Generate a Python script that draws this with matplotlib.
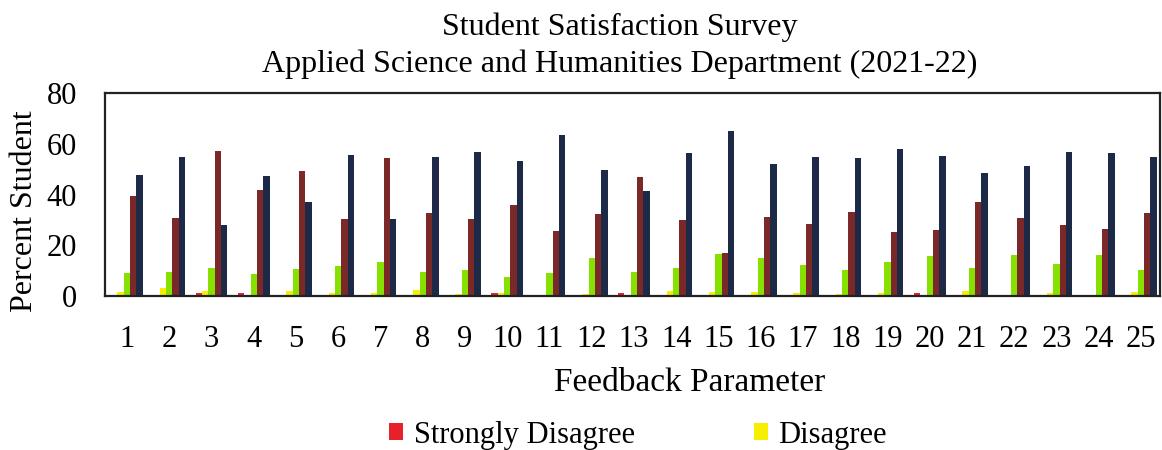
import matplotlib
matplotlib.use("Agg")
import matplotlib.pyplot as plt
import numpy as np

params = [str(i) for i in range(1, 26)]
strongly_disagree = [0.3, 0.3, 1.2, 1.2, 0.3, 0.3, 0.3, 0.3, 0.3, 1.2, 0.3, 0.3, 1.3, 0.3, 0.3,
                     0.3, 0.3, 0.3, 0.3, 1.1, 0.3, 0.3, 0.3, 0.3, 0.3]
disagree = [1.7, 3.3, 2.1, 0.3, 2.1, 1.3, 1.3, 2.2, 0.9, 1.2, 0.3, 0.9, 0.3, 2.0, 1.7,
            1.7, 1.3, 0.9, 1.2, 0.3, 1.8, 0.3, 1.3, 0.3, 1.4]
neutral = [8.9, 9.6, 10.9, 8.6, 10.5, 11.7, 13.4, 9.3, 10.4, 7.5, 9.1, 15.0, 9.6, 11.2, 16.4,
           14.9, 12.2, 10.1, 13.3, 15.9, 10.9, 16.2, 12.8, 16.2, 10.4]
agree = [39.6, 30.7, 57.2, 41.6, 49.2, 30.3, 54.3, 32.9, 30.5, 35.7, 25.7, 32.2, 46.8, 29.9, 17.0,
         31.1, 28.2, 33.0, 25.4, 25.9, 37.1, 30.7, 28.0, 26.3, 32.6]
strongly_agree = [47.5, 54.6, 27.8, 47.2, 37.2, 55.4, 30.4, 54.9, 56.7, 53.3, 63.3, 49.7, 41.2, 56.4, 65.1,
                  52.1, 54.9, 54.5, 57.9, 55.0, 48.6, 51.2, 56.7, 56.3, 54.9]

series = [strongly_disagree, disagree, neutral, agree, strongly_agree]
labels = ["Strongly Disagree", "Disagree", "Neutral", "Agree", "Strongly Agree"]
colors = ["#E8202A", "#F7EE00", "#86E000", "#7A2828", "#1C2A48"]

plt.rcParams['font.family'] = ['Liberation Serif', 'DejaVu Serif']

fig = plt.figure(figsize=(11.62, 4.5), dpi=100)
ax = fig.add_axes([105/1162, 1-296/450, (1160-105)/1162, (296-93)/450])

x = np.arange(1, 26)
w = 0.15
handles = []
for i, (vals, lab, col) in enumerate(zip(series, labels, colors)):
    b = ax.bar(x + (i - 2) * w, vals, width=w, color=col, label=lab, linewidth=0)
    handles.append(b)

ax.set_xlim(0.48, 25.45)
ax.set_ylim(0, 80)
ax.set_yticks([0, 20, 40, 60, 80])
ax.set_xticks(x)
ax.set_xticklabels(params)
ax.tick_params(axis='both', length=0, labelsize=22)
ax.tick_params(axis='x', pad=21)
ax.tick_params(axis='y', pad=20)
for s in ax.spines.values():
    s.set_linewidth(1.6)
    s.set_color("#222222")

fig.text(620/1162, 1-27/450, "Student Satisfaction Survey", ha='center', va='center', fontsize=23)
fig.text(620/1162, 1-64/450, "Applied Science and Humanities Department (2021-22)", ha='center', va='center', fontsize=23)
fig.text(690/1162, 1-383/450, "Feedback Parameter", ha='center', va='center', fontsize=24)
fig.text(25/1162, 1-211/450, "Percent Student", ha='center', va='center', rotation=90, fontsize=23)

leg = fig.legend(handles=handles[:2], labels=labels[:2], loc='center', ncol=2,
                 bbox_to_anchor=(638/1162, 1-435/450), frameon=False, fontsize=22,
                 handlelength=0.45, handleheight=0.45, handletextpad=0.35, columnspacing=3.9)

fig.savefig("out.png", dpi=100)
